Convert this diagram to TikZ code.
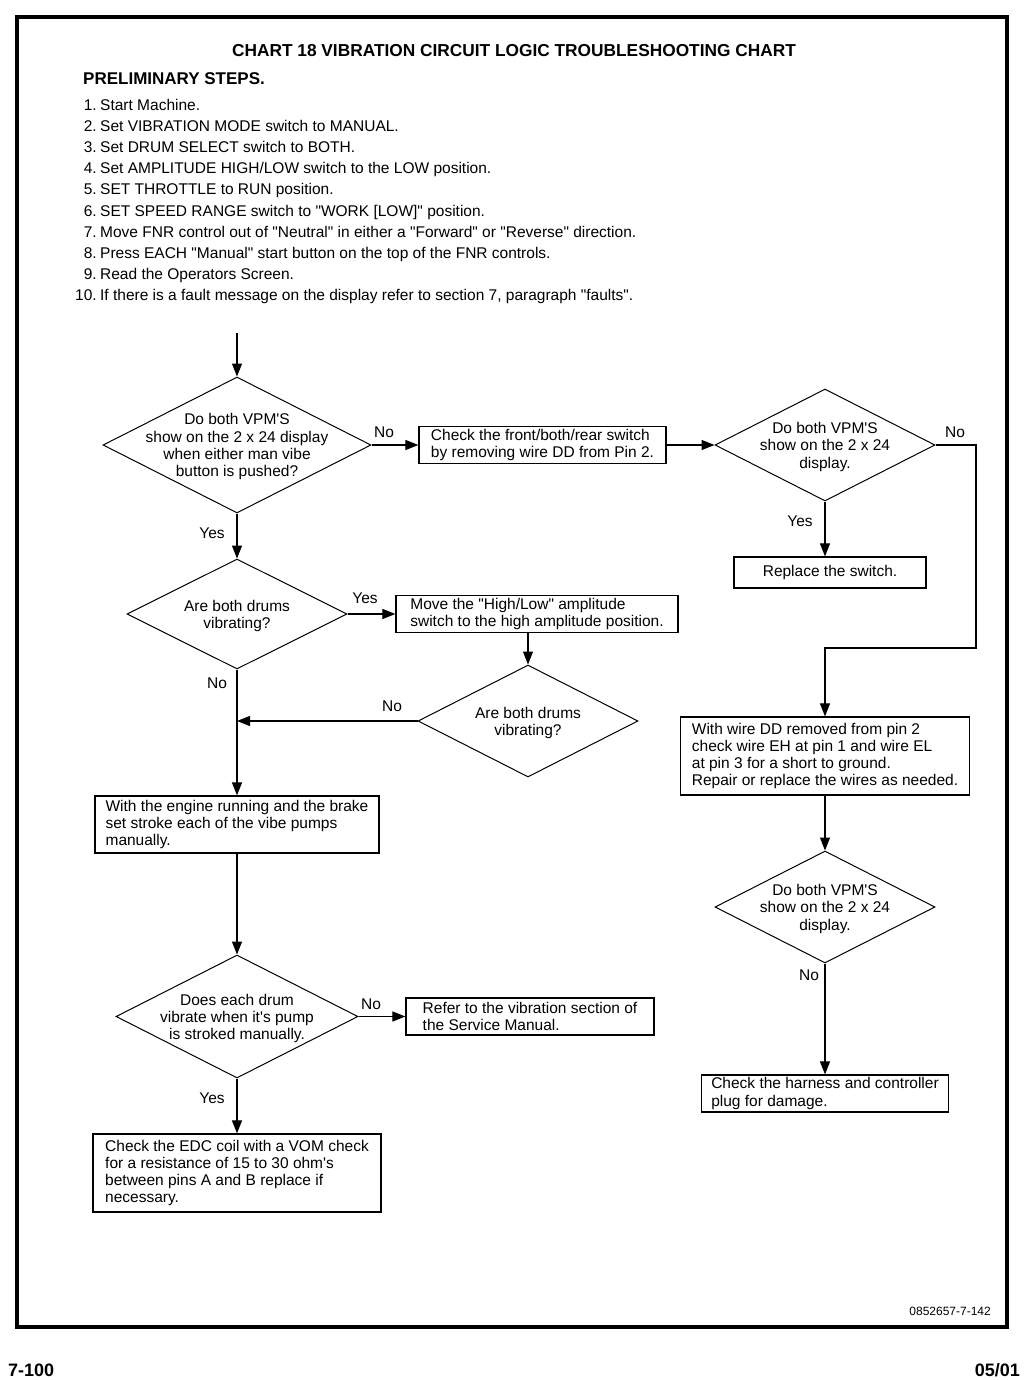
\documentclass[tikz,border=0pt]{standalone}
\usepackage{fontspec}
\setmainfont{Liberation Sans}[Ligatures=TeXOff]
\usetikzlibrary{shapes.geometric,arrows.meta}

\newcommand{\chartfont}{\fontsize{15.5}{17.3}\selectfont}
\newcommand{\dtext}[1]{\makebox[0pt]{\smash{\raisebox{-6pt}{\begin{tabular}{@{}c@{}}#1\end{tabular}}}}}
\newcommand{\num}[1]{\makebox[21.5pt][r]{#1}\hspace{3.5pt}}

\begin{document}
\begin{tikzpicture}[x=1pt,y=-1pt]
\tikzset{decision/.style={draw, diamond, inner sep=0pt, line width=1pt, font=\chartfont},
  stepbox/.style={draw, rectangle, align=left, inner sep=0pt, line width=1.2pt, font=\chartfont},
  answer/.style={anchor=base, inner sep=0pt, font=\chartfont},
  prelimline/.style={anchor=base west, inner sep=0pt, font=\chartfont},
  flow/.style={line width=1.1pt, -{Triangle[length=13pt,width=10pt]}}}
\useasboundingbox (0,0) rectangle (1024,1380);
\draw[line width=3.5pt] (17,17) rectangle (1007,1327);
\node[anchor=base, inner sep=0pt, font=\bfseries\fontsize{17.3}{20}\selectfont] (title) at (514,57) {CHART 18 VIBRATION CIRCUIT LOGIC TROUBLESHOOTING CHART};
\node[anchor=base west, inner sep=0pt, font=\bfseries\fontsize{17}{20}\selectfont] (prelim) at (83,85) {PRELIMINARY STEPS.};
% preliminary steps
\node[prelimline] (S1) at (75,110.5) {\num{1.}Start Machine.};
\node[prelimline] (S2) at (75,131.5) {\num{2.}Set VIBRATION MODE switch to MANUAL.};
\node[prelimline] (S3) at (75,152.5) {\num{3.}Set DRUM SELECT switch to BOTH.};
\node[prelimline] (S4) at (75,173.5) {\num{4.}Set AMPLITUDE HIGH/LOW switch to the LOW position.};
\node[prelimline] (S5) at (75,194.5) {\num{5.}SET THROTTLE to RUN position.};
\node[prelimline] (S6) at (75,216.5) {\num{6.}SET SPEED RANGE switch to "WORK [LOW]" position.};
\node[prelimline] (S7) at (75,237.5) {\num{7.}Move FNR control out of "Neutral" in either a "Forward" or "Reverse" direction.};
\node[prelimline] (S8) at (75,258.5) {\num{8.}Press EACH "Manual" start button on the top of the FNR controls.};
\node[prelimline] (S9) at (75,279.5) {\num{9.}Read the Operators Screen.};
\node[prelimline] (S10) at (75,300.5) {\num{10.}If there is a fault message on the display refer to section 7, paragraph "faults".};
% decisions
\node[decision, minimum width=268pt, minimum height=136pt] (D1) at (237,445) {\dtext{Do both VPM'S\\show on the 2 x 24 display\\when either man vibe\\button is pushed?}};
\node[decision, minimum width=220pt, minimum height=112pt] (D2) at (825,445) {\dtext{Do both VPM'S\\show on the 2 x 24\\display.}};
\node[decision, minimum width=220pt, minimum height=110pt] (D3) at (237,614) {\dtext{Are both drums\\vibrating?}};
\node[decision, minimum width=220pt, minimum height=112pt] (D4) at (528,721) {\dtext{Are both drums\\vibrating?}};
\node[decision, minimum width=242pt, minimum height=123pt] (D5) at (237,1016.5) {\dtext{Does each drum\\vibrate when it's pump\\is stroked manually.}};
\node[decision, minimum width=220pt, minimum height=112pt] (D6) at (825,907) {\dtext{Do both VPM'S\\show on the 2 x 24\\display.}};
% actions
\node[stepbox, minimum width=247pt, minimum height=37pt] (B1) at (542.5,445) {Check the front/both/rear switch\\by removing wire DD from Pin 2.};
\node[stepbox, align=center, minimum width=192pt, minimum height=31pt] (B8) at (830,572.5) {Replace the switch.};
\node[stepbox, minimum width=282pt, minimum height=37pt] (B3) at (537,614) {Move the "High/Low" amplitude\\switch to the high amplitude position.};
\node[stepbox, minimum width=284pt, minimum height=57pt] (B4) at (237,824.5) {With the engine running and the brake\\set stroke each of the vibe pumps\\manually.};
\node[stepbox, minimum width=248pt, minimum height=37pt] (B5) at (530,1016.5) {Refer to the vibration section of\\the Service Manual.};
\node[stepbox, minimum width=288pt, minimum height=78pt] (B6) at (237,1173) {Check the EDC coil with a VOM check\\for a resistance of 15 to 30 ohm's\\between pins A and B replace if\\necessary.};
\node[stepbox, minimum width=289pt, minimum height=78pt] (B2) at (825,756) {With wire DD removed from pin 2\\check wire EH at pin 1 and wire EL\\at pin 3 for a short to ground.\\Repair or replace the wires as needed.};
\node[stepbox, minimum width=247pt, minimum height=37pt] (B7) at (825,1093.5) {Check the harness and controller\\plug for damage.};
% answers
\node[answer] (A1) at (384,437.5) {No};
\node[answer] (A2) at (955,437.5) {No};
\node[answer] (A3) at (800,526.5) {Yes};
\node[answer] (A4) at (212,538.5) {Yes};
\node[answer] (A5) at (365,603.5) {Yes};
\node[answer] (A6) at (392,711.5) {No};
\node[answer] (A7) at (217,688.5) {No};
\node[answer] (A8) at (371,1009.5) {No};
\node[answer] (A9) at (212,1103.5) {Yes};
\node[answer] (A10) at (809,980.5) {No};
% connectors
\coordinate (entry) at (237,333);
\coordinate (turn) at (976,648);
\draw[flow] (entry) -- (D1.north);
\draw[flow] (D1.east) -- (B1.west);
\draw[flow] (B1.east) -- (D2.west);
\draw[flow] (D2.south) -- (D2.south |- B8.north);
\draw[flow] (D2.east) -| (turn) -| (B2.north);
\draw[flow] (D1.south) -- (D3.north);
\draw[flow] (D3.east) -- (B3.west);
\draw[flow] (B3.south -| D4.north) -- (D4.north);
\draw[flow] (D4.west) -- (D4.west -| D3.south);
\draw[flow] (D3.south) -- (B4.north);
\draw[flow] (B4.south) -- (D5.north);
\draw[flow] (D5.east) -- (B5.west);
\draw[flow] (D5.south) -- (B6.north);
\draw[flow] (B2.south) -- (D6.north);
\draw[flow] (D6.south) -- (B7.north);
% footer
\node[anchor=base east, inner sep=0pt, font=\fontsize{12}{14}\selectfont] (code) at (991,1315) {0852657-7-142};
\node[anchor=base west, inner sep=0pt, font=\bfseries\fontsize{18}{22}\selectfont] (page) at (8,1376) {7-100};
\node[anchor=base east, inner sep=0pt, font=\bfseries\fontsize{18}{22}\selectfont] (date) at (1020,1376) {05/01};
\end{tikzpicture}
\end{document}
